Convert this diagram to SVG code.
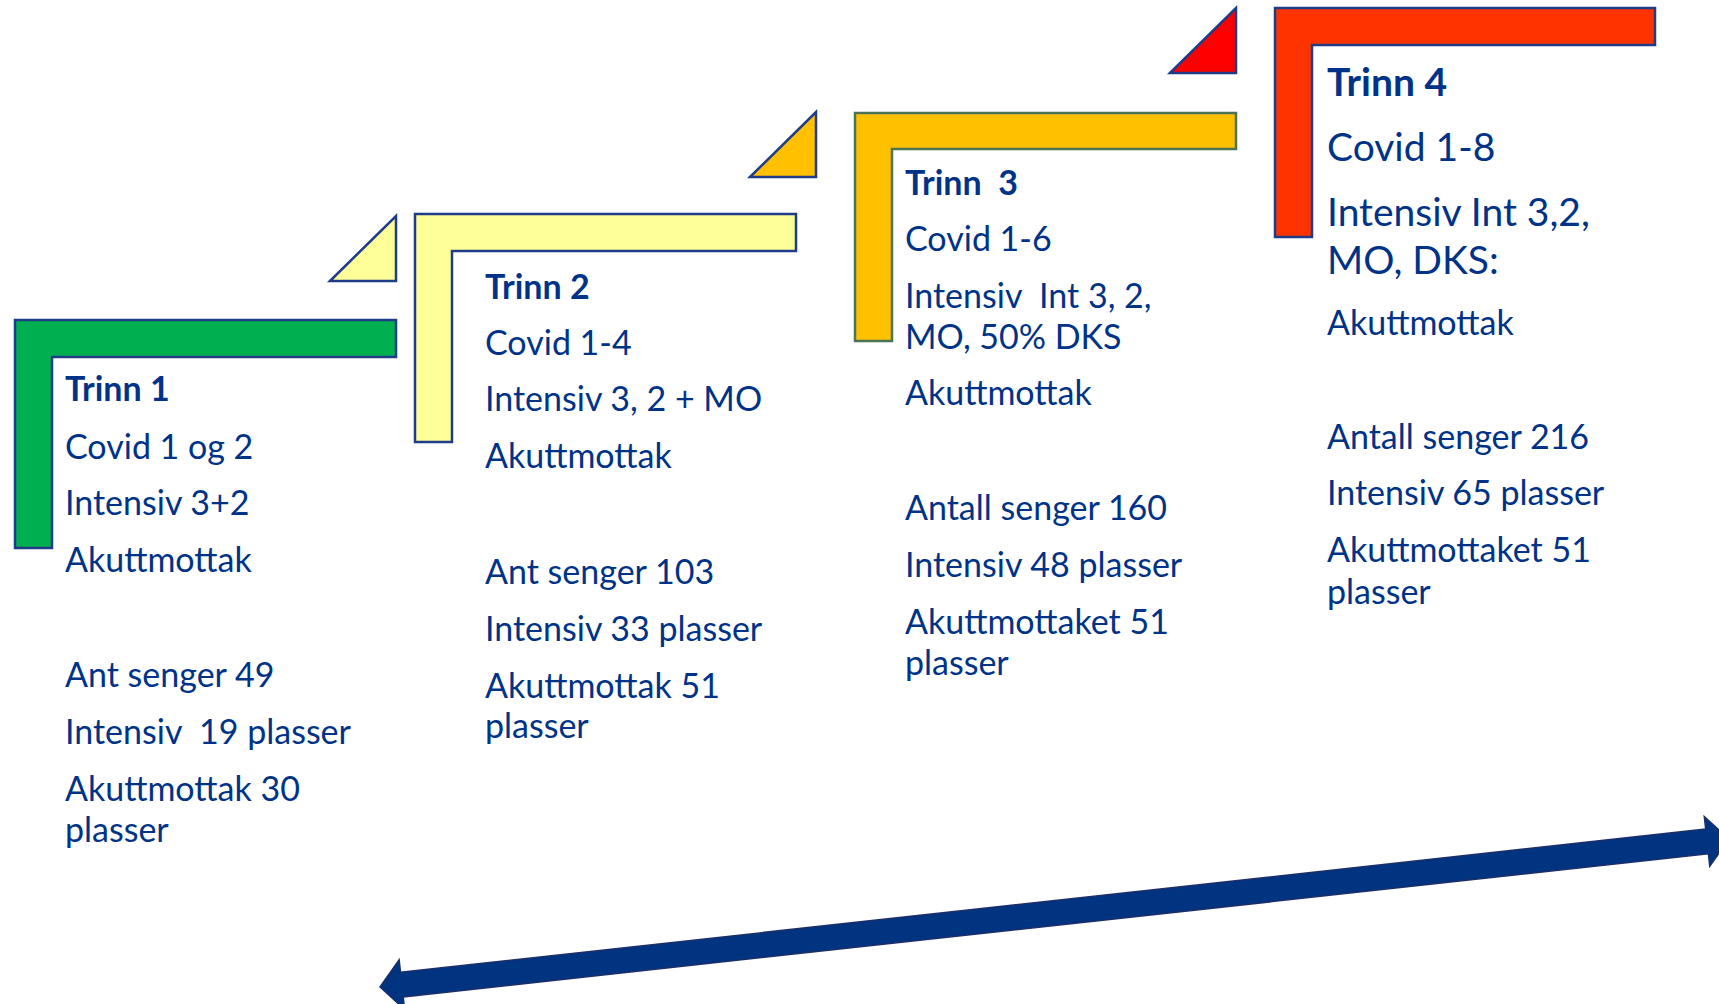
<svg xmlns="http://www.w3.org/2000/svg" width="1719" height="1004" viewBox="0 0 1719 1004">
  <style>
    .t { font-family: Lato, "Open Sans", "Liberation Sans", sans-serif; font-size: 34px; fill: #003388; white-space: pre; }
    .b { font-weight: bold; }
    .lg { font-size: 39px; }
    .edge { stroke: #1F3C88; stroke-width: 2.5; stroke-linejoin: miter; }
    .edge-g { stroke: #4A7358; stroke-width: 2.5; }
  </style>
  <rect width="1719" height="1004" fill="#FFFFFF"/>

  <!-- Step 1: green bracket -->
  <g id="trinn-1">
    <path class="edge" fill="#00B050" d="M15,320 H396 V357 H52 V548 H15 Z"/>
    <text class="t b" x="65" y="401">Trinn 1</text>
    <text class="t" x="65" y="459">Covid 1 og 2</text>
    <text class="t" x="65" y="515">Intensiv 3+2</text>
    <text class="t" x="65" y="572">Akuttmottak</text>
    <text class="t" x="65" y="687">Ant senger 49</text>
    <text class="t" x="65" y="744">Intensiv  19 plasser</text>
    <text class="t" x="65" y="801">Akuttmottak 30</text>
    <text class="t" x="65" y="842">plasser</text>
  </g>

  <!-- Step 2: light yellow bracket with its corner wedge -->
  <g id="trinn-2">
    <path class="edge" fill="#FFFF99" d="M330,281 L396,216 L396,281 Z"/>
    <path class="edge" fill="#FFFF99" d="M415,214 H796 V251 H452 V442 H415 Z"/>
    <text class="t b" x="485" y="299">Trinn 2</text>
    <text class="t" x="485" y="355">Covid 1-4</text>
    <text class="t" x="485" y="411">Intensiv 3, 2 + MO</text>
    <text class="t" x="485" y="468">Akuttmottak</text>
    <text class="t" x="485" y="584">Ant senger 103</text>
    <text class="t" x="485" y="641">Intensiv 33 plasser</text>
    <text class="t" x="485" y="698">Akuttmottak 51</text>
    <text class="t" x="485" y="738">plasser</text>
  </g>

  <!-- Step 3: amber bracket with its corner wedge -->
  <g id="trinn-3">
    <path class="edge" fill="#FFC000" d="M750,177 L816,112 L816,177 Z"/>
    <path class="edge-g" fill="#FFC000" d="M855,113 H1236 V149 H892 V341 H855 Z"/>
    <text class="t b" x="905" y="195">Trinn  3</text>
    <text class="t" x="905" y="251">Covid 1-6</text>
    <text class="t" x="905" y="308">Intensiv  Int 3, 2,</text>
    <text class="t" x="905" y="349">MO, 50% DKS</text>
    <text class="t" x="905" y="405">Akuttmottak</text>
    <text class="t" x="905" y="520">Antall senger 160</text>
    <text class="t" x="905" y="577">Intensiv 48 plasser</text>
    <text class="t" x="905" y="634">Akuttmottaket 51</text>
    <text class="t" x="905" y="675">plasser</text>
  </g>

  <!-- Step 4: red bracket with its corner wedge -->
  <g id="trinn-4">
    <path class="edge" fill="#FF0000" d="M1170,73 L1236,8 L1236,73 Z"/>
    <path class="edge" fill="#FF3300" d="M1275,8 H1655 V45 H1312 V237 H1275 Z"/>
    <text class="t b lg" x="1327" y="96">Trinn 4</text>
    <text class="t lg" x="1327" y="161">Covid 1-8</text>
    <text class="t lg" x="1327" y="226">Intensiv Int 3,2,</text>
    <text class="t lg" x="1327" y="274">MO, DKS:</text>
    <text class="t" x="1327" y="335">Akuttmottak</text>
    <text class="t" x="1327" y="449">Antall senger 216</text>
    <text class="t" x="1327" y="505">Intensiv 65 plasser</text>
    <text class="t" x="1327" y="562">Akuttmottaket 51</text>
    <text class="t" x="1327" y="604">plasser</text>
  </g>

  <!-- Double-headed scale arrow along the bottom -->
  <g id="connectors">
    <path transform="translate(380,987) rotate(-6.26)" fill="#003380" stroke="#1B2F6A" stroke-width="1.5"
          d="M0,0 L22,-25 L22,-12.4 L1335,-12.4 L1335,-25 L1357,0 L1335,25 L1335,12.4 L22,12.4 L22,25 Z"/>
  </g>
</svg>
